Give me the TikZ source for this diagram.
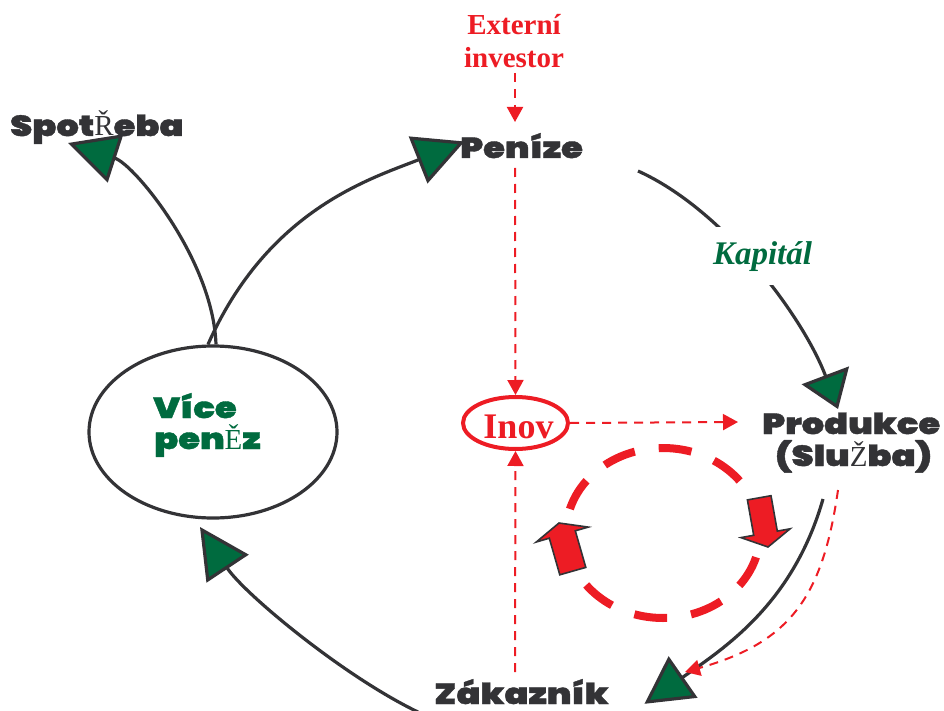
\documentclass[tikz,border=0pt]{standalone}
\usepackage{fontspec}
\usetikzlibrary{arrows.meta,shapes.geometric}
\IfFontExistsTF{Poppins Black}{\newfontfamily\heavyfont{Poppins Black}[FakeStretch=1.22,FakeBold=1.3]}{\newfontfamily\heavyfont{DejaVu Sans Bold}[FakeStretch=1.1]}
\newfontfamily\timesfont{Liberation Serif}
\newfontfamily\capserif{Liberation Serif}
\definecolor{kred}{HTML}{ED1C24}
\definecolor{kgreen}{HTML}{006B3F}
\definecolor{kdark}{HTML}{333336}
\begin{document}
\begin{tikzpicture}[x=1pt,y=-1pt,
  heavy/.style={font=\heavyfont\fontsize{29}{31}\selectfont, text=kdark, inner sep=0pt},
  heavyg/.style={heavy, text=kgreen},
  conn/.style={draw=kdark, line width=3.2pt, line join=miter},
  gtip/.style={-{Triangle[length=#1,width=50pt,fill=kgreen]}},
  rdash/.style={draw=kred, line width=2pt, dash pattern=on 9pt off 7pt,
     -{Triangle[length=15pt,width=16pt,fill=kred]}},
  redserif/.style={font=\timesfont\bfseries\fontsize{29}{31}\selectfont, text=kred, inner sep=0pt},
  blockarrow/.style={fill=kred, draw=kdark, line width=1.6pt, line join=miter}]
\useasboundingbox (0,0) rectangle (944,711);

% ---- nodes ----
\node[ellipse, draw=kdark, line width=3.2pt, minimum width=248pt, minimum height=172pt, inner sep=0pt] (vice) at (213,432) {};
\node[heavyg, anchor=base west] (vicea) at (153,418) {Více};
\node[heavyg, anchor=base west] (viceb) at (154,449) {pen{\capserif Ě}z};
\node[heavy, anchor=base west] (spot) at (10,136) {Spot{\capserif Ř}eba};
\node[heavy, anchor=base west] (pen) at (460,158) {Peníze};
\node[heavy, anchor=base west] (prod) at (762,434) {Produkce};
\node[heavy, anchor=base west] (sluz) at (775,466) {(Slu{\capserif Ž}ba)};
\node[heavy, anchor=base west] (zak) at (434,704) {Zákazník};
\node[redserif, anchor=base] (exta) at (514,35) {Externí};
\node[redserif, anchor=base] (extb) at (514,68) {investor};
\node[ellipse, draw=kred, line width=4pt, minimum width=105pt, minimum height=52pt, inner sep=0pt] (inov) at (515.5,423) {};
\node[font=\timesfont\bfseries\fontsize{36}{38}\selectfont, text=kred, inner sep=0pt, anchor=base] (inovt) at (518.5,438) {Inov};

% ---- named end points ----
\coordinate (extOut) at (515,73);
\coordinate (penIn) at (515,122);
\coordinate (penDown) at (515,168);
\coordinate (prodIn) at (738,422);
\coordinate (zakUp) at (515,672);
\coordinate (prodDown) at (838,490);
\coordinate (zakIn) at (685,672);
\coordinate (tipSpot) at (68,143);
\coordinate (tipPen) at (464.5,141.5);
\coordinate (penOut) at (638,171);
\coordinate (tipProd) at (838,409);
\coordinate (prodOut) at (823,499);
\coordinate (tipZak) at (644.5,703.8);
\coordinate (zakOut) at (418,712);
\coordinate (tipVice) at (200,527);

% ---- dashed circle and block arrows ----
\draw[kred, line width=8pt, dash pattern=on 33pt off 24.2pt] (663,533) ellipse [x radius=97pt, y radius=85pt];
\draw[blockarrow] (768,547) -- (790.1,528.8) -- (777.3,531.1) -- (771,495.7) -- (747.4,499.9) -- (753.7,535.3) -- (740.9,537.6) -- cycle;
\draw[blockarrow] (559,523) -- (588.3,527.1) -- (575.3,530.8) -- (585.8,567.4) -- (559.8,574.8) -- (549.3,538.2) -- (536.3,542) -- cycle;

% ---- main cycle connectors ----
\draw[conn, gtip=50pt] ([xshift=3pt]vice.north) .. controls (213,260) and (134.5,164.5) .. (tipSpot);
\draw[conn, gtip=50pt] ([xshift=-5pt]vice.north) .. controls (268,209) and (371.5,178.5) .. (tipPen);
\draw[conn, gtip=36pt] (penOut) .. controls (724.5,210) and (803.5,317.5) .. (tipProd);
\node[font=\timesfont\bfseries\itshape\fontsize{33}{35}\selectfont, text=kgreen, fill=white, inner xsep=4pt, inner ysep=14pt, anchor=base] (kap) at (762.5,264) {Kapitál};
\draw[conn, gtip=47pt] (prodOut) .. controls (793.3,602.6) and (726.5,646.8) .. (tipZak);
\draw[conn, gtip=50pt] (zakOut) .. controls (343,676) and (244,593.4) .. (tipVice);

% ---- red dashed connectors ----
\draw[rdash] (extOut) -- (penIn);
\draw[rdash] (penDown) -- (inov.north);
\draw[rdash] (inov.east) -- (prodIn);
\draw[rdash] (zakUp) -- (inov.south);
\draw[rdash] (prodDown) .. controls (822.6,597) and (790.6,642.3) .. (zakIn);
\end{tikzpicture}
\end{document}
